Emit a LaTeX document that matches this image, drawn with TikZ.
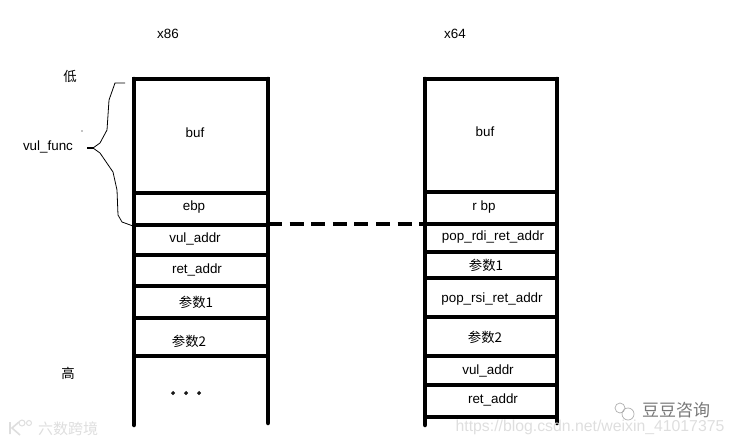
\documentclass[tikz,border=0pt]{standalone}
\usepackage{fontspec}
\setmainfont{Liberation Sans}
\newfontfamily\cjk{Noto Sans CJK SC}
\definecolor{markgray}{RGB}{222,222,222}
\definecolor{wechatgray}{RGB}{120,120,120}
\tikzset{
  wall/.style={line width=4.5pt,line cap=round},
  sep/.style={line width=4pt},
  cell/.style={font=\fontsize{13.4}{15}\selectfont,inner sep=0pt},
  logomark/.style={draw=markgray,line width=1.6pt}
}
\begin{document}
\begin{tikzpicture}[x=1pt,y=-1pt]
  \useasboundingbox (0,0) rectangle (735,444);
  % Headings
  \node[cell] (xa) at (168,34) {x86};
  \node[cell] (xb) at (455,34) {x64};
  \node[cell] (low) at (70,76) {\cjk 低};
  \node[cell] (high) at (68,373) {\cjk 高};
  \node[cell] (func) at (48,147) {vul\_func};
  % x86 stack
  \draw[wall] (134,79) -- (134,425);
  \draw[wall] (268,79) -- (268,423);
  \foreach \y in {79,193,225,255,286,318,356}
    \draw[sep] (132,\y) -- (270,\y);
  \node[cell] (bufa) at (195,133) {buf};
  \node[cell] (ebp) at (194,207) {ebp};
  \node[cell] (vula) at (195,239) {vul\_addr};
  \node[cell] (reta) at (197,270) {ret\_addr};
  \node[cell] (arga) at (196,302) {\cjk 参数1};
  \node[cell] (argb) at (189,341) {\cjk 参数2};
  \foreach \x in {173,186,199}
    \draw[line width=1pt] (\x,393) circle (1.3);
  % x64 stack
  \draw[wall] (425,79) -- (425,425);
  \draw[wall] (557,79) -- (557,423);
  \foreach \y in {79,192,224,252,278,317,356,385,417}
    \draw[sep] (423,\y) -- (559,\y);
  \node[cell] (bufb) at (485,132) {buf};
  \node[cell] (rbp) at (484,207) {r bp};
  \node[cell] (rdi) at (493,237) {pop\_rdi\_ret\_addr};
  \node[cell] (argc) at (486,265) {\cjk 参数1};
  \node[cell] (rsi) at (492,299) {pop\_rsi\_ret\_addr};
  \node[cell] (argd) at (485,337) {\cjk 参数2};
  \node[cell] (vulb) at (488,371) {vul\_addr};
  \node[cell] (retb) at (493,400) {ret\_addr};
  % Link between the stacks
  \coordinate (linka) at (268,224);
  \coordinate (linkb) at (425,224);
  \draw[line width=4pt,dash pattern=on 14pt off 7.6pt] (linka) -- (linkb);
  % Hand drawn brace
  \coordinate (bracetop) at (125,83);
  \coordinate (bracebot) at (133,226);
  \draw[line width=0.8pt] (bracetop) -- (115,83) -- (109,100) -- (107,130) -- (100,143)
    -- (93,148) -- (100,153) -- (113,172) -- (117,190) -- (118,215) -- (122,222) -- (bracebot);
  \draw[line width=2pt] (87,148) -- (94,148);
  \fill (82,131) circle (0.7);
  % Watermarks
  \node[cell,text=markgray,font=\fontsize{15}{17}\selectfont] (marka) at (68,429) {\cjk 六数跨境};
  \draw[logomark] (10,422) -- (10,434) (19,422) -- (12,428) -- (20,435);
  \draw[logomark,line width=1pt] (22,423) circle (3) (29,423) circle (2.5);
  \node[cell,text=markgray,font=\fontsize{15.8}{17}\selectfont] (markb) at (590,427) {https://blog.csdn.net/weixin\_41017375};
  \node[cell,text=wechatgray,font=\fontsize{17}{17}\selectfont] (markc) at (676,410) {\cjk 豆豆咨询};
  \draw[wechatgray!60,line width=0.7pt] (620,408) circle (5) (628,414) circle (6);
\end{tikzpicture}
\end{document}
